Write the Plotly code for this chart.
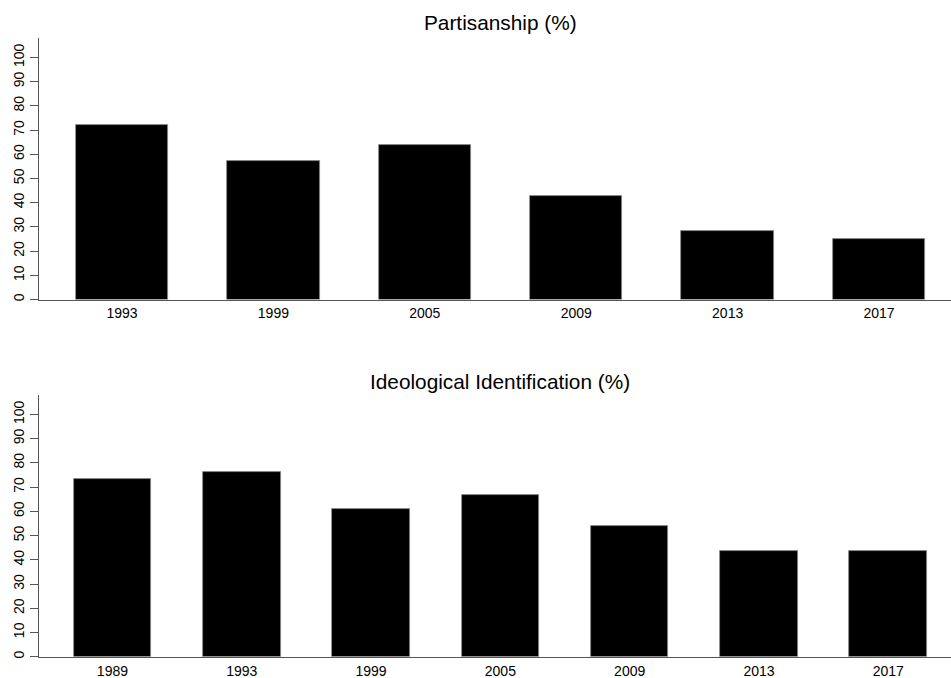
import plotly.graph_objects as go
from plotly.subplots import make_subplots

# Survey waves and shares (%)
partisan_years = ["1993", "1999", "2005", "2009", "2013", "2017"]
partisan_values = [72.0, 57.2, 64.0, 42.8, 28.4, 25.0]

ideology_years = ["1989", "1993", "1999", "2005", "2009", "2013", "2017"]
ideology_values = [73.2, 76.2, 60.9, 66.6, 53.8, 43.5, 43.6]

y_ticks = list(range(0, 101, 10))

W, H = 951, 678
FONT = "Liberation Sans, Arial, Helvetica, sans-serif"
AXIS_COLOR = "#555555"

fig = make_subplots(rows=2, cols=1)

fig.add_trace(go.Bar(
    x=list(range(len(partisan_years))), y=partisan_values, width=0.61,
    marker=dict(color="black", line=dict(color="#8a8a8a", width=0.8)),
    showlegend=False, hoverinfo="y"), row=1, col=1)

fig.add_trace(go.Bar(
    x=list(range(len(ideology_years))), y=ideology_values, width=0.6,
    marker=dict(color="black", line=dict(color="#8a8a8a", width=0.8)),
    showlegend=False, hoverinfo="y"), row=2, col=1)

# Panel placement in pixels (top, bottom of each plot area)
def dom(top_px, bottom_px):
    return [1 - bottom_px / H, 1 - top_px / H]

fig.update_layout(
    width=W, height=H,
    margin=dict(l=39, r=0, t=0, b=0),
    paper_bgcolor="white", plot_bgcolor="white",
    font=dict(family=FONT, size=14, color="black"),
    bargap=0,
    yaxis=dict(domain=dom(38, 299.5)),
    yaxis2=dict(domain=dom(395, 656.7)),
    xaxis=dict(domain=[0, 1], range=[-0.548, 5.475]),
    xaxis2=dict(domain=[0, 1], range=[-0.568, 6.485]),
)

for years, n in [(partisan_years, 1), (ideology_years, 2)]:
    fig.update_xaxes(
        row=n, col=1,
        tickvals=list(range(len(years))), ticktext=years,
        showline=True, linecolor=AXIS_COLOR, linewidth=1,
        showgrid=False, zeroline=False, ticks="",
        ticklabelstandoff=1, automargin=False,
        tickfont=dict(family=FONT, size=14, color="black"),
    )
    fig.update_yaxes(
        row=n, col=1,
        range=[0, 108], tickvals=y_ticks,
        ticktext=[str(v) for v in y_ticks],
        tickangle=-90, automargin=False,
        showline=True, linecolor=AXIS_COLOR, linewidth=1,
        ticks="outside", ticklen=8, tickcolor=AXIS_COLOR, tickwidth=1,
        showgrid=False, zeroline=False,
        tickfont=dict(family=FONT, size=14, color="black"),
    )

titles = [("Partisanship (%)", 23), ("Ideological Identification (%)", 381)]
for text, ypx in titles:
    fig.add_annotation(
        text=text, xref="paper", yref="paper",
        x=(500 - 39) / (W - 39), y=1 - ypx / H,
        xanchor="center", yanchor="middle", showarrow=False,
        font=dict(family=FONT, size=20.8, color="black"),
    )

fig.write_html("out.html")
